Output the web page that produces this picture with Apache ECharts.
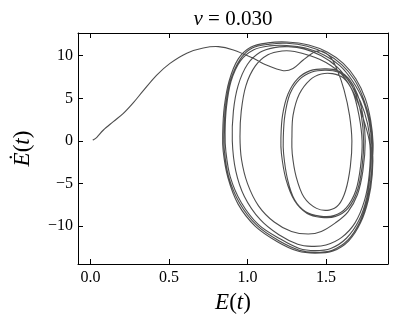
<!DOCTYPE html>
<html>
<head>
<meta charset="utf-8">
<script src="https://cdn.jsdelivr.net/npm/echarts@6/dist/echarts.min.js"></script>
<style>
html,body{margin:0;padding:0;background:#fff;}
#c{width:398px;height:327px;}
</style>
</head>
<body>
<div id="c"></div>
<script>
// ---- data: phase-space trajectory (E, dE/dt) ----
var startPath = [
  [0.014,0.1],[0.04,0.43],[0.082,1.29],[0.145,2.27],[0.209,3.24],[0.273,4.5],
  [0.336,5.9],[0.42,7.7],[0.506,9.1],[0.613,10.3],[0.718,10.9],[0.814,11.06],
  [0.91,10.67],[1.037,9.69],[1.12,8.9],[1.228,8.24],[1.29,8.5],[1.355,9.5],
  [1.43,10.45],[1.48,10.5],[1.53,9.8]
];
var innermostLoop = [
  [1.57,8.4],[1.615,6],[1.65,3],[1.665,0],[1.655,-3],[1.625,-5.8],[1.58,-7.5],
  [1.52,-8.1],[1.44,-7.9],[1.36,-6.6],[1.31,-4.2],[1.285,-1.5],[1.283,0.5],
  [1.29,3],[1.33,5.5],[1.40,7.2],[1.47,7.85],[1.54,7.9],[1.61,7.4]
];
var ringLoop1 = [
  [1.67,5.8],[1.71,3],[1.73,0],[1.72,-3],[1.69,-5.8],[1.63,-7.8],[1.55,-8.75],
  [1.46,-8.8],[1.37,-8.3],[1.30,-6.9],[1.255,-4.5],[1.23,-1.5],[1.228,0.5],
  [1.238,3],[1.27,5.5],[1.33,7.2],[1.41,8.1],[1.50,8.3],[1.58,8.05],[1.64,7.2]
];
var ringLoop2 = [
  [1.69,5.5],[1.725,3],[1.74,0],[1.73,-3],[1.70,-5.8],[1.64,-7.9],[1.56,-8.85],
  [1.47,-8.95],[1.38,-8.5],[1.30,-7],[1.245,-4.5],[1.216,-1.5],[1.213,0.5],
  [1.223,3],[1.258,5.5],[1.32,7.3],[1.40,8.25],[1.50,8.45],[1.58,8.2],[1.645,7.3]
];
var ringLoop3 = [
  [1.70,5.5],[1.735,3],[1.75,0],[1.735,-3.5],[1.70,-6.3],[1.64,-8.3],[1.56,-9.6],
  [1.47,-10.6],[1.387,-10.9],[1.28,-10.6],[1.17,-9.5],[1.07,-7.6],[1.0,-5],
  [0.962,-2.2],[0.952,0.5],[0.96,3.5],[0.99,6.5],[1.05,8.8],[1.13,10.1],
  [1.22,10.55],[1.30,10.5],[1.40,10.0],[1.50,9.2],[1.60,7.8]
];
var outerLoop4 = [
  [1.68,5.5],[1.74,2.5],[1.78,-0.5],[1.775,-4],[1.745,-7],[1.685,-9.6],[1.60,-11.3],
  [1.50,-12.2],[1.41,-12.35],[1.32,-12.1],[1.20,-11.0],[1.08,-9.2],[0.98,-6.5],
  [0.925,-3.5],[0.903,0],[0.91,3.5],[0.94,6.5],[1.0,9],[1.08,10.4],[1.17,10.95],
  [1.26,11.05],[1.36,10.8],[1.47,10.0],[1.57,8.7],[1.65,6.9],[1.72,4.6],[1.765,2.0]
];
var outerLoop3 = [
  [1.785,-0.8],[1.782,-3.6],[1.76,-6.6],[1.71,-9.3],[1.63,-11.4],[1.53,-12.6],
  [1.43,-12.85],[1.33,-12.6],[1.21,-11.5],[1.07,-9.8],[0.96,-7.2],[0.89,-4.2],
  [0.862,-1.2],[0.857,1],[0.866,4],[0.895,7],[0.955,9.4],[1.04,10.7],[1.14,11.15],
  [1.25,11.2],[1.37,10.9],[1.49,10.05],[1.59,8.8],[1.67,7.0],[1.735,4.8],[1.775,2.2]
];
var outerLoop2 = [
  [1.792,-0.6],[1.79,-3.8],[1.765,-6.8],[1.715,-9.5],[1.64,-11.6],[1.54,-12.8],
  [1.43,-13.05],[1.33,-12.8],[1.2,-11.7],[1.06,-9.9],[0.95,-7.3],[0.88,-4.2],
  [0.853,-1.2],[0.85,1],[0.86,4],[0.89,7],[0.95,9.5],[1.03,10.9],[1.14,11.35],
  [1.25,11.45],[1.38,11.1],[1.50,10.25],[1.60,8.95],[1.68,7.2],[1.74,4.9],[1.78,2.3]
];
var outerLoop1 = [
  [1.797,-0.6],[1.795,-3.9],[1.77,-6.9],[1.72,-9.6],[1.645,-11.7],[1.545,-12.9],
  [1.43,-13.15],[1.32,-12.9],[1.19,-11.8],[1.05,-10],[0.94,-7.4],[0.875,-4.3],
  [0.845,-1.2],[0.842,1],[0.852,4],[0.882,7],[0.94,9.6],[1.02,11],[1.13,11.5],
  [1.25,11.6],[1.39,11.25],[1.51,10.4],[1.61,9.1],[1.69,7.3],[1.75,5],[1.785,2.4],
  [1.80,-0.3],[1.795,-2.5]
];
var xTicks = [0.0, 0.5, 1.0, 1.5];
var yTicks = [-10, -5, 0, 5, 10];
var titleText = '{i|\u03bd} = 0.030';

var trajectory = [].concat(startPath, innermostLoop, ringLoop1, ringLoop2, ringLoop3,
  outerLoop4, outerLoop3, outerLoop2, outerLoop1);

var FONT = 'Liberation Serif';
var chart = echarts.init(document.getElementById('c'), null, {renderer:'canvas'});

function fmtY(v){ return v < 0 ? '\u2212' + Math.abs(v) : String(v); }
function axisLine(){ return {show:true, onZero:false, lineStyle:{color:'#000', width:1}}; }
function ticks(vals){ return {show:true, inside:true, length:5, customValues:vals, lineStyle:{color:'#000', width:1}}; }

// Smooth curve through the data points (Catmull-Rom as cubic Bezier), positions from api.coord
function renderTrajectory(params, api){
  if (params.dataIndex !== 0) return null;
  var p = [];
  for (var i = 0; i < trajectory.length; i++) {
    p.push(api.coord([trajectory[i][0], trajectory[i][1]]));
  }
  var d = 'M' + p[0][0] + ' ' + p[0][1];
  for (var k = 0; k < p.length - 1; k++) {
    var p0 = p[Math.max(k - 1, 0)], p1 = p[k], p2 = p[k + 1], p3 = p[Math.min(k + 2, p.length - 1)];
    var c1x = p1[0] + (p2[0] - p0[0]) / 6, c1y = p1[1] + (p2[1] - p0[1]) / 6;
    var c2x = p2[0] - (p3[0] - p1[0]) / 6, c2y = p2[1] - (p3[1] - p1[1]) / 6;
    d += ' C' + c1x + ' ' + c1y + ' ' + c2x + ' ' + c2y + ' ' + p2[0] + ' ' + p2[1];
  }
  return {
    type:'path',
    shape:{pathData:d},
    style:{stroke:'#4d4d4d', lineWidth:1.1, fill:null}
  };
}

chart.setOption({
  animation:false,
  backgroundColor:'#fff',
  graphic:[{
    type:'text', x:233, y:19, z:10,
    style:{
      text:titleText, align:'center', verticalAlign:'middle',
      font:'21px "Liberation Serif"', fill:'#000',
      rich:{i:{fontFamily:FONT, fontStyle:'italic', fontSize:21, fill:'#000'}}
    }
  }],
  grid:{left:78, right:10, top:33, bottom:63, outerBoundsMode:'none', containLabel:false},
  xAxis:[{
    type:'value', min:-0.08, max:1.895, position:'bottom',
    splitLine:{show:false},
    axisLine:axisLine(),
    axisTick:ticks(xTicks),
    axisLabel:{customValues:xTicks, formatter:function(v){return v.toFixed(1);},
      fontFamily:FONT, fontSize:16, color:'#000', margin:6},
    name:'{i|E}({i|t})', nameLocation:'middle', nameGap:27,
    nameTextStyle:{fontFamily:FONT, fontSize:23, color:'#000',
      rich:{i:{fontFamily:FONT, fontStyle:'italic', fontSize:23, color:'#000'}}}
  },{
    type:'value', min:-0.08, max:1.895, position:'top',
    splitLine:{show:false},
    axisLine:axisLine(),
    axisTick:ticks(xTicks),
    axisLabel:{show:false}
  }],
  yAxis:[{
    type:'value', min:-14.42, max:12.66, position:'left',
    splitLine:{show:false},
    axisLine:axisLine(),
    axisTick:ticks(yTicks),
    axisLabel:{customValues:yTicks, formatter:fmtY,
      fontFamily:FONT, fontSize:16, color:'#000', margin:5},
    name:'{i|\u0116}({i|t})', nameLocation:'middle', nameGap:44, nameRotate:90,
    nameTextStyle:{fontFamily:FONT, fontSize:23, color:'#000',
      rich:{i:{fontFamily:FONT, fontStyle:'italic', fontSize:23, color:'#000'}}}
  },{
    type:'value', min:-14.42, max:12.66, position:'right',
    splitLine:{show:false},
    axisLine:axisLine(),
    axisTick:ticks(yTicks),
    axisLabel:{show:false}
  }],
  series:[{
    type:'custom', xAxisIndex:0, yAxisIndex:0,
    coordinateSystem:'cartesian2d',
    data:trajectory,
    encode:{x:0, y:1},
    renderItem:renderTrajectory,
    clip:true,
    z:1
  }]
});
</script>
</body>
</html>
